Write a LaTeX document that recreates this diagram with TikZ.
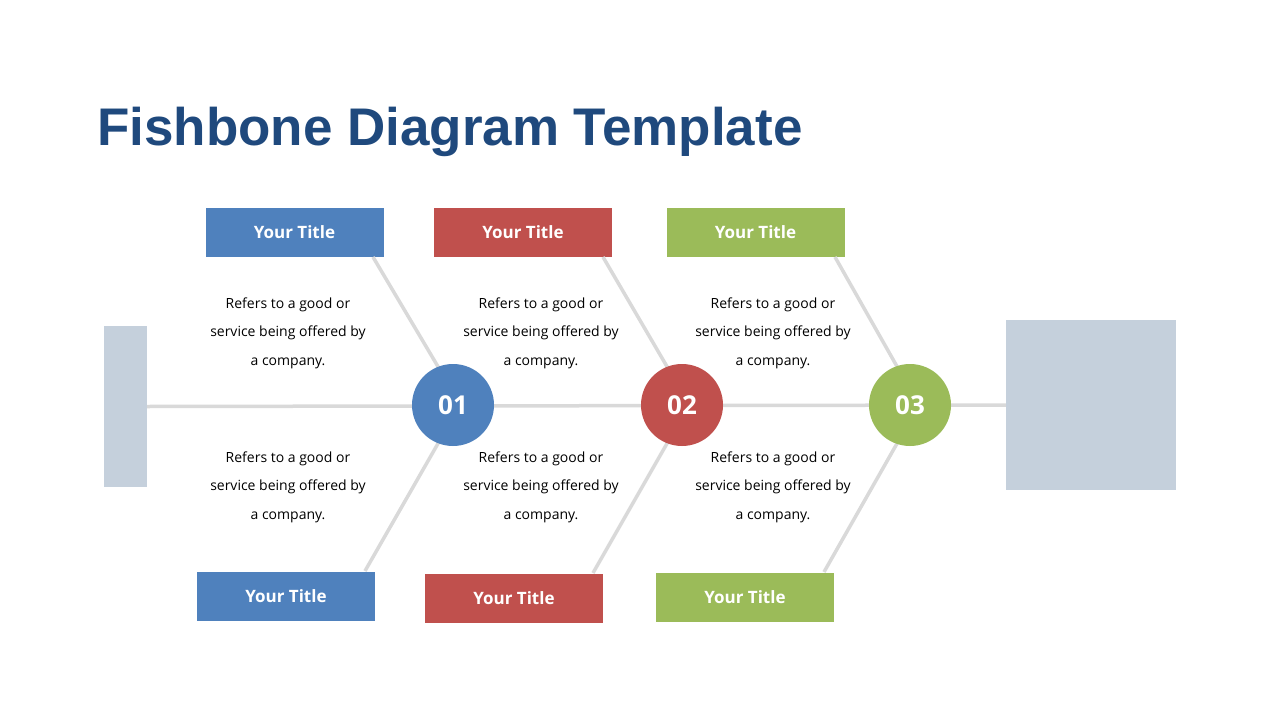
\documentclass[tikz,border=0pt]{standalone}
\usepackage{fontspec}
\setmainfont{Open Sans}
\newfontfamily\titlefont{Liberation Sans}
\definecolor{cblue}{HTML}{4F81BD}
\definecolor{cred}{HTML}{C0504D}
\definecolor{cgreen}{HTML}{9BBB59}
\definecolor{bone}{HTML}{D9D9D9}
\definecolor{slate}{HTML}{C5D0DC}
\definecolor{navy}{HTML}{1F497D}
\begin{document}
\begin{tikzpicture}[x=1pt,y=-1pt,
  bonel/.style={draw=bone,line width=3.5pt},
  tbox/.style={minimum width=178pt,minimum height=49pt,inner sep=0pt,text=white,font=\bfseries\fontsize{17}{20}\selectfont},
  num/.style={circle,minimum size=82pt,inner sep=0pt,text=white,font=\bfseries\fontsize{26}{30}\selectfont},
  desc/.style={align=center,font=\fontsize{14}{28.5}\selectfont,text=black}]
\useasboundingbox[fill=white] (0,0) rectangle (1280,720);
\node[anchor=base west,inner sep=0pt,text=navy] (title) at (97,145) {\resizebox{705pt}{!}{\titlefont\bfseries Fishbone Diagram Template}};
\node[fill=slate,minimum width=43pt,minimum height=161pt,inner sep=0pt] (L) at (125.5,406.5) {};
\node[fill=slate,minimum width=170pt,minimum height=170pt,inner sep=0pt] (R) at (1091,405) {};
\coordinate (s1) at (147,406);
\coordinate (s2) at (1006,406);
\draw[bonel] (L.east) -- (R.west);
\node[tbox,fill=cblue] (t1) at (294.5,232.5) {Your Title};
\node[tbox,fill=cred] (t2) at (523,232.5) {Your Title};
\node[tbox,fill=cgreen] (t3) at (755.5,232.5) {Your Title};
\node[tbox,fill=cblue] (b1) at (286,596) {Your Title};
\node[tbox,fill=cred] (b2) at (514,598) {Your Title};
\node[tbox,fill=cgreen] (b3) at (745,597) {Your Title};
\coordinate (t1e) at (373,257); \coordinate (t2e) at (603,257); \coordinate (t3e) at (835,257);
\coordinate (b1e) at (365,571); \coordinate (b2e) at (593,573); \coordinate (b3e) at (824,572);
\coordinate (c1t) at (440,370); \coordinate (c2t) at (669,370); \coordinate (c3t) at (899,370);
\coordinate (c1b) at (440,440); \coordinate (c2b) at (669,440); \coordinate (c3b) at (899,440);
\draw[bonel] (t1e) -- (c1t); \draw[bonel] (t2e) -- (c2t); \draw[bonel] (t3e) -- (c3t);
\draw[bonel] (b1e) -- (c1b); \draw[bonel] (b2e) -- (c2b); \draw[bonel] (b3e) -- (c3b);
\node[num,fill=cblue] (n1) at (453,405) {01};
\node[num,fill=cred] (n2) at (682,405) {02};
\node[num,fill=cgreen] (n3) at (910,405) {03};
\foreach \x/\n in {288/1,541/2,773/3}{
  \node[desc] (u\n) at (\x,333) {Refers to a good or\\service being offered by\\a company.};
  \node[desc] (d\n) at (\x,487) {Refers to a good or\\service being offered by\\a company.};
}
\end{tikzpicture}
\end{document}
